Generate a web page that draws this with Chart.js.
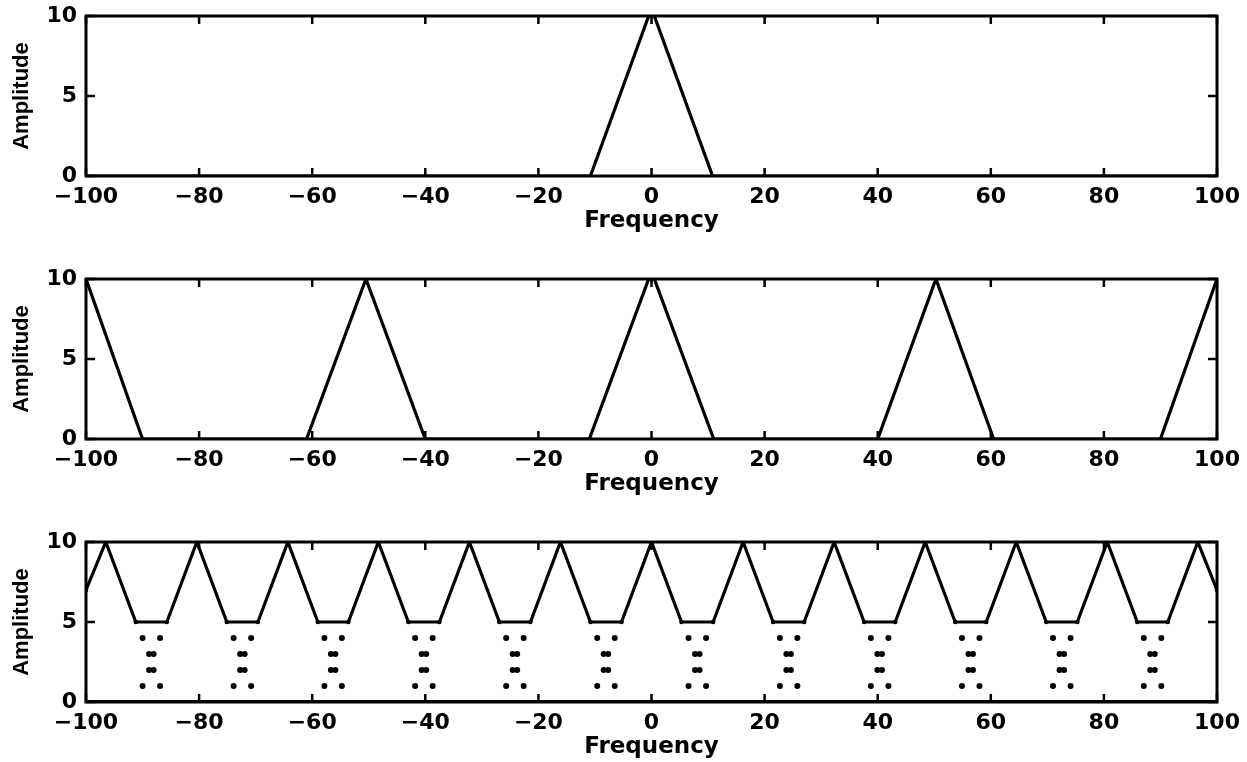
<!DOCTYPE html>
<html>
<head>
<meta charset="utf-8">
<script src="https://cdn.jsdelivr.net/npm/chart.js@4.4.1/dist/chart.umd.min.js"></script>
<style>
  html, body { margin: 0; padding: 0; background: #fff; }
  .panel { position: absolute; left: 0; width: 1247px; height: 236px; }
</style>
</head>
<body>
<div class="panel" style="top:0"><canvas id="chart1"></canvas></div>
<div class="panel" style="top:263px"><canvas id="chart2"></canvas></div>
<div class="panel" style="top:526px"><canvas id="chart3"></canvas></div>
<script>
// top: original spectrum
const freq1 = [-100, -10.8, -0.5, 0.5, 10.8, 100];
const amp1 = [0, 0, 10, 10, 0, 0];

// middle: replicas every 50
const freq2 = [-100, -90, -61, -50.5, -40, -11, -0.5, 0.5, 11, 40, 50.3, 60.5, 90, 100];
const amp2 = [10, 0, 0, 10, 0, 0, 10, 10, 0, 0, 10, 0, 0, 10];

// bottom: overlapping replicas (summed)
const freq3 = [-100, -96.5, -91.2, -85.7, -80.4, -75.1, -69.6, -64.3, -59.0, -53.6, -48.3,
  -43.0, -37.5, -32.2, -26.9, -21.4, -16.1, -10.8, -5.3, 0, 5.3, 10.9, 16.2, 21.5, 27.0,
  32.3, 37.6, 43.1, 48.4, 53.7, 59.2, 64.5, 69.8, 75.3, 80.6, 85.9, 91.3, 96.6, 100];
const amp3 = [7, 10, 5, 5, 10, 5, 5, 10, 5, 5, 10, 5, 5, 10, 5, 5, 10, 5, 5, 10,
  5, 5, 10, 5, 5, 10, 5, 5, 10, 5, 5, 10, 5, 5, 10, 5, 5, 10, 7];
const freqZero = [-100, 100];
const ampZero = [0, 0];

// tails of the single replicas, drawn as dots inside each trough
const troughCenters = [-88.45, -72.35, -56.3, -40.25, -24.15, -8.05, 8.1, 24.25, 40.35, 56.45, 72.55, 88.6];
const tailDx = [-1.55, 1.55, -0.4, 0.4, -0.4, 0.4, -1.55, 1.55];
const tailAmp = [4, 4, 3, 3, 2, 2, 1, 1];

const tickFont = { family: 'DejaVu Sans', weight: 'bold', size: 22 };

function toPoints(xs, ys) {
  return xs.map((x, i) => ({ x, y: ys[i] }));
}

function formatTick(value) {
  return value < 0 ? '\u2212' + Math.abs(value) : String(value);
}

const framePlugin = {
  id: 'frame',
  afterDatasetsDraw(chart) {
    const { ctx, chartArea: a, scales: { x, y } } = chart;
    ctx.save();
    ctx.strokeStyle = '#000';
    ctx.lineWidth = 3;
    ctx.strokeRect(a.left, a.top, a.right - a.left, a.bottom - a.top);
    ctx.lineWidth = 2.5;
    ctx.beginPath();
    x.ticks.forEach(t => {
      const px = x.getPixelForValue(t.value);
      ctx.moveTo(px, a.bottom);
      ctx.lineTo(px, a.bottom - 8);
      ctx.moveTo(px, a.top);
      ctx.lineTo(px, a.top + 8);
    });
    y.ticks.forEach(t => {
      const py = y.getPixelForValue(t.value);
      ctx.moveTo(a.left, py);
      ctx.lineTo(a.left + 9, py);
      ctx.moveTo(a.right, py);
      ctx.lineTo(a.right - 9, py);
    });
    ctx.stroke();
    ctx.restore();
  }
};

function lineSet(points, width, radius) {
  return {
    data: points,
    borderColor: '#000',
    backgroundColor: '#000',
    borderWidth: width,
    pointRadius: radius || 0,
    pointBorderWidth: 0,
    tension: 0,
    fill: false
  };
}

function makeChart(id, datasets) {
  return new Chart(document.getElementById(id), {
    type: 'line',
    data: { datasets },
    options: {
      responsive: true,
      maintainAspectRatio: false,
      animation: false,
      layout: { padding: { top: 16, right: 30, left: 0, bottom: 0 } },
      plugins: { legend: { display: false }, tooltip: { enabled: false } },
      scales: {
        x: {
          type: 'linear',
          min: -100,
          max: 100,
          ticks: { stepSize: 20, autoSkip: false, maxRotation: 0, padding: 8, color: '#000', font: tickFont, callback: formatTick },
          grid: { display: false, drawTicks: false },
          border: { display: false },
          title: {
            display: true,
            text: 'Frequency',
            color: '#000',
            font: { family: 'DejaVu Sans', weight: 'bold', size: 23 },
            padding: { top: 0, bottom: 1 }
          },
          afterFit: s => { s.height = 60; s.paddingLeft = 0; s.paddingRight = 0; }
        },
        y: {
          min: 0,
          max: 10,
          ticks: { stepSize: 5, padding: 9, color: '#000', font: tickFont },
          grid: { display: false, drawTicks: false },
          border: { display: false },
          title: {
            display: true,
            text: 'Amplitude',
            color: '#000',
            font: { family: 'Liberation Sans', weight: 'bold', size: 22 },
            padding: { top: 9, bottom: 0 }
          },
          afterFit: s => { s.width = 86; s.paddingTop = 0; s.paddingBottom = 0; }
        }
      }
    },
    plugins: [framePlugin]
  });
}

makeChart('chart1', [lineSet(toPoints(freq1, amp1), 3.2)]);
makeChart('chart2', [lineSet(toPoints(freq2, amp2), 3.2)]);

const tailPoints = [];
troughCenters.forEach(c => {
  tailDx.forEach((dx, i) => tailPoints.push({ x: c + dx, y: tailAmp[i] }));
});
const tailSet = lineSet(tailPoints, 0, 3);
tailSet.showLine = false;

makeChart('chart3', [
  lineSet(toPoints(freqZero, ampZero), 4),
  lineSet(toPoints(freq3, amp3), 3.2, 2.3),
  tailSet
]);
</script>
</body>
</html>
